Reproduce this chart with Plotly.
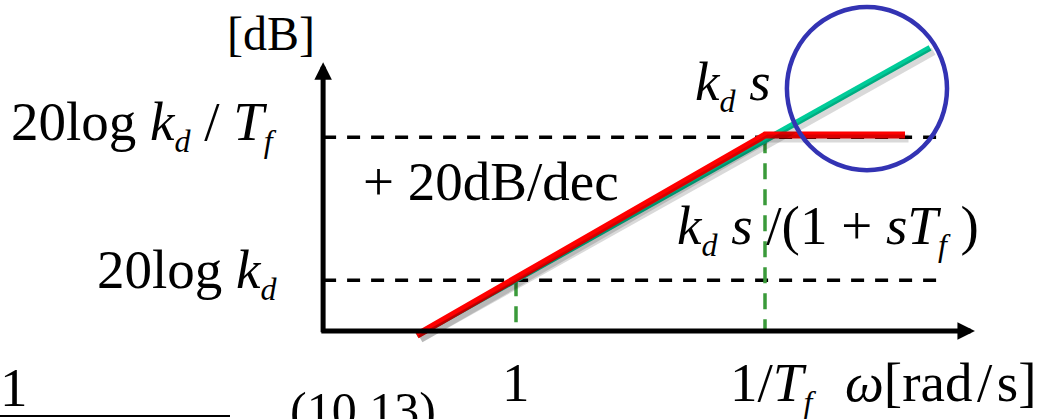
import numpy as np
import plotly.graph_objects as go

W, H = 1038, 419
FONT = "Liberation Serif"


def sub(t, size=32):
    return "<sub><span style='font-size:%dpx'><i>%s</i></span></sub>" % (size, t)


# Asymptotic gain of kd*s/(1+s*Tf) (red) and of kd*s (teal): breakpoints in rad/s, gain in dB
omega_red = [0.40, 10.0, 36.5]
gain_red = [-0.6, 27.4, 27.4]
omega_teal = [0.40, 46.0]
gain_teal = [-0.6, 39.6]

# Reference gain levels: 20log kd and 20log kd/Tf
level_db = [7.1, 27.1]
level_labels = [
    "20log <i>k</i>" + sub("d"),
    "20log <i>k</i>" + sub("d") + " / <i>T</i>" + sub("f"),
]
level_end_omega = 52.8

# Corner frequencies: 1 and 1/Tf
corner_omega = [1.0, 10.0]
corner_labels = ["1", "1/<i>T</i>" + sub("f")]

# Axis extents (rad/s, dB)
axis_omega = 0.168
axis_omega_start = 0.163
axis_omega_end = 69.7
axis_db_top = 37.6
axis_db_bottom = -0.4

# Highlight circle around the high-frequency region (log10 rad/s, dB)
circle_lx = [1.088, 1.731]
circle_db = [22.5, 45.3]

# Plot scale: 249 px per decade, 7.15 px per dB, omega=1 at x=516 px, 0 dB at y=331 px
DEC_PX, DB_PX = 249.0, 7.15
XR = [(0 - 516) / DEC_PX, (W - 516) / DEC_PX]
YR = [(331 - H) / DB_PX, 331 / DB_PX]
# shadow layer offset (px)
SH = 3.5
XR2 = [XR[0] - SH / DEC_PX, XR[1] - SH / DEC_PX]
YR2 = [YR[0] + SH / DB_PX, YR[1] + SH / DB_PX]

lg = np.log10

fig = go.Figure()

# black dashed reference levels
for lv in level_db:
    fig.add_trace(go.Scatter(
        x=lg([axis_omega, level_end_omega]), y=[lv, lv], mode="lines",
        line=dict(color="black", width=3.5, dash="13px,11px"),
        hoverinfo="skip", showlegend=False))

# green dashed drop lines at the corner frequencies
for w, lv in zip(corner_omega, level_db):
    fig.add_trace(go.Scatter(
        x=lg([w, w]), y=[lv, 0], mode="lines",
        line=dict(color="#3a9a3a", width=3.5, dash="16px,10px"),
        hoverinfo="skip", showlegend=False))

# soft shadows under the asymptotes
for om, g in ((omega_teal, gain_teal), (omega_red, gain_red)):
    fig.add_trace(go.Scatter(
        x=lg(om), y=g, mode="lines", xaxis="x2", yaxis="y2",
        line=dict(color="rgba(0,0,0,0.15)", width=8),
        hoverinfo="skip", showlegend=False))

fig.add_trace(go.Scatter(
    x=lg(omega_teal), y=gain_teal, mode="lines",
    line=dict(color="#00cc99", width=6),
    hoverinfo="skip", showlegend=False))
fig.add_trace(go.Scatter(
    x=lg(omega_red), y=gain_red, mode="lines",
    line=dict(color="#ff0000", width=7),
    hoverinfo="skip", showlegend=False))

fig.add_shape(type="circle", xref="x", yref="y",
              x0=circle_lx[0], x1=circle_lx[1], y0=circle_db[0], y1=circle_db[1],
              line=dict(color="#3333b3", width=4.5))

anns = []
# axes with arrowheads
anns.append(dict(x=lg(axis_omega), y=axis_db_top, ax=lg(axis_omega), ay=axis_db_bottom,
                 xref="x", yref="y", axref="x", ayref="y", text="", showarrow=True,
                 arrowhead=2, arrowsize=0.7, arrowwidth=5, arrowcolor="black"))
anns.append(dict(x=lg(axis_omega_end), y=0, ax=lg(axis_omega_start), ay=0,
                 xref="x", yref="y", axref="x", ayref="y", text="", showarrow=True,
                 arrowhead=2, arrowsize=0.7, arrowwidth=5, arrowcolor="black"))


def text_at(txt, left, baseline, size=55):
    top = baseline - 0.891 * size - 2
    anns.append(dict(text=txt, x=(left - 2) / W, y=1 - top / H, xref="paper", yref="paper",
                     xanchor="left", yanchor="top", showarrow=False,
                     font=dict(family=FONT, size=size, color="black")))


# level labels, right-aligned against the gain axis
for lab, lv, dy in zip(level_labels, level_db, [8, 3]):
    base_px = 331 - lv * DB_PX + dy
    top = base_px - 0.891 * 55 - 2
    anns.append(dict(text=lab, x=lg(axis_omega), y=1 - top / H, xref="x", yref="paper",
                     xanchor="right", yanchor="top", xshift=-44, showarrow=False,
                     font=dict(family=FONT, size=55, color="black")))

# corner-frequency tick labels
for lab, w, dx in zip(corner_labels, corner_omega, [0, 8]):
    top = 401 - 0.891 * 55 - 2
    anns.append(dict(text=lab, x=lg(w), y=1 - top / H, xref="x", yref="paper",
                     xanchor="center", yanchor="top", xshift=dx, showarrow=False,
                     font=dict(family=FONT, size=55, color="black")))

text_at("[dB]", 227, 50, 48)
text_at("+ 20dB/dec", 363, 200)
text_at("<i>k</i>" + sub("d") + " <i>s</i>", 695, 100)
text_at("<i>k</i>" + sub("d") + " <i>s</i> /(1 + <i>sT</i>" + sub("f") + " )", 677, 244)
text_at("<i>ω</i>[rad\u200a/\u200as]", 845, 401)
text_at("1", 0, 406)
text_at("(10.13)", 290, 427, 50)

fig.add_shape(type="line", xref="paper", yref="paper",
              x0=0, x1=230 / W, y0=1 - 416 / H, y1=1 - 416 / H,
              line=dict(color="black", width=2))

fig.update_layout(
    width=W, height=H, margin=dict(l=0, r=0, t=0, b=0, pad=0),
    paper_bgcolor="white", plot_bgcolor="white",
    xaxis=dict(range=XR, visible=False, fixedrange=True),
    yaxis=dict(range=YR, visible=False, fixedrange=True),
    xaxis2=dict(range=XR2, visible=False, overlaying="x", fixedrange=True),
    yaxis2=dict(range=YR2, visible=False, overlaying="y", fixedrange=True),
    annotations=anns, showlegend=False,
)

fig.write_html("out.html", config={"displayModeBar": False})
